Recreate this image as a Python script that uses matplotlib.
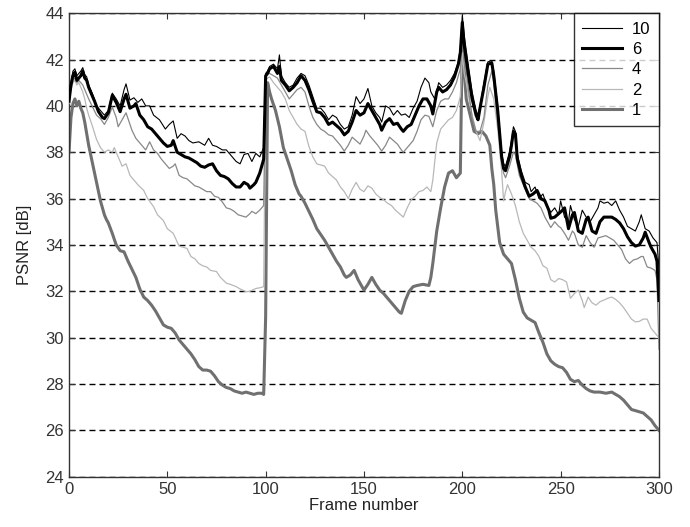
import matplotlib
matplotlib.use('Agg')
import matplotlib.pyplot as plt

plt.rcParams['font.family'] = ['Liberation Sans', 'DejaVu Sans']

# PSNR per frame for different numbers of reference frames (10, 6, 4, 2, 1)
frames_10 = [0, 1, 2, 3, 4, 5, 6, 7, 8, 9, 10, 12, 14, 16, 18, 20, 22, 24, 26, 28, 29, 31, 33, 35, 37, 39,
             41, 43, 46, 49, 51, 53, 55, 57, 59, 61, 63, 66, 69, 71, 73, 75, 78, 80, 83, 85, 87, 89, 91,
             93, 95, 97, 99,
             100, 101, 102, 104, 106, 107, 108, 110, 112, 114, 116, 118, 120, 122, 124, 126, 128, 130,
             132, 134, 136, 138, 140, 142, 144, 146, 148, 150, 152, 154, 156, 158, 159, 161, 163, 165,
             167, 169, 171, 173, 175, 177, 179, 181, 183, 184, 186, 188, 190, 192, 194, 196, 198, 199,
             200, 201, 203, 205, 207, 208, 209, 211, 213, 215, 216, 218, 220, 221, 222, 224, 225, 226,
             227, 228, 230, 232, 234, 235, 237, 239, 241, 243, 245, 247, 249, 250, 252, 254, 255, 257,
             259, 261, 263, 265, 267, 269, 270, 272, 274, 276, 278, 280, 282, 284, 286, 288, 290, 291,
             293, 295, 297, 299, 300]
psnr_10 = [40.3, 41.0, 41.5, 41.6, 41.3, 41.4, 41.5, 41.65, 41.35, 41.25, 40.9, 40.5, 40.0, 39.8, 39.6,
           39.8, 40.55, 40.3, 40.0, 40.7, 40.95, 40.25, 40.35, 40.15, 40.3, 40.0, 40.0, 39.6, 39.4, 39.0,
           39.2, 39.35, 38.6, 38.8, 38.7, 38.5, 38.4, 38.45, 38.3, 38.6, 38.3, 38.25, 38.1, 38.1, 37.8,
           37.6, 37.5, 37.9, 37.95, 37.6, 37.95, 37.8, 38.2,
           41.4, 41.5, 41.7, 41.8, 41.6, 42.2, 41.3, 41.0, 40.8, 40.9, 41.2, 41.4, 41.3, 40.9, 40.4,
           39.9, 39.9, 39.7, 39.4, 39.6, 39.5, 39.2, 39.0, 39.1, 39.6, 40.4, 40.1, 40.3, 40.75, 40.0,
           39.7, 39.5, 39.3, 40.0, 39.9, 39.6, 39.8, 39.6, 39.65, 39.5, 39.9, 40.2, 40.8, 41.2, 41.0,
           40.6, 40.3, 41.0, 40.8, 40.9, 41.1, 41.4, 41.9, 42.5,
           43.9, 43.0, 41.8, 40.6, 39.8, 39.6, 40.0, 41.0, 41.9, 41.95, 41.5, 40.0, 38.0, 37.5, 37.4,
           38.0, 38.5, 39.1, 38.9, 37.9, 37.2, 36.7, 36.6, 36.3, 36.5, 36.0, 36.2, 35.7, 35.4, 35.6,
           35.3, 35.9, 35.2, 35.0, 35.7, 35.1, 34.8, 35.5, 35.2, 35.0, 35.3, 35.6, 35.9, 35.8, 35.85,
           35.7, 35.9, 35.5, 35.2, 34.8, 34.7, 34.6, 35.0, 35.3, 34.7, 34.6, 34.3, 34.1, 33.0]

frames_6 = [0, 1, 2, 3, 4, 5, 6, 7, 8, 9, 10, 11, 13, 15, 17, 18, 20, 22, 24, 26, 28, 29, 31, 33, 34, 36,
            38, 40, 42, 44, 46, 48, 50, 52, 53, 55, 57, 59, 61, 63, 65, 67, 69, 71, 73, 75, 77, 79, 81,
            83, 85, 87, 89, 91, 92, 94, 95, 97, 99,
            100, 101, 102, 104, 106, 107, 108, 110, 112, 114, 116, 118, 120, 122, 124, 126, 128, 130,
            132, 134, 136, 138, 140, 142, 144, 146, 148, 150, 152, 154, 156, 158, 159, 161, 163, 165,
            167, 169, 170, 172, 174, 176, 178, 180, 182, 184, 185, 187, 188, 190, 192, 194, 196, 198,
            199,
            200, 201, 203, 205, 207, 208, 209, 211, 213, 215, 216, 218, 220, 221, 222, 224, 225, 226,
            227, 228, 230, 232, 234, 236, 238, 240, 242, 244, 245, 247, 249, 251, 252, 254, 256, 257,
            259, 261, 263, 264, 266, 268, 270, 272, 274, 276, 278, 280, 282, 284, 286, 288, 290, 292,
            293, 295, 296, 298, 299, 300]
psnr_6 = [40.2, 40.9, 41.3, 41.45, 41.1, 41.2, 41.3, 41.5, 41.2, 41.1, 40.8, 40.6, 40.2, 39.75, 39.5,
          39.45, 39.7, 40.45, 40.15, 39.75, 40.3, 40.5, 39.9, 40.0, 40.1, 39.6, 39.4, 39.1, 39.0, 38.8,
          38.6, 38.4, 38.25, 38.3, 38.5, 38.0, 37.9, 37.8, 37.75, 37.65, 37.55, 37.4, 37.35, 37.45, 37.5,
          37.2, 37.0, 36.95, 36.85, 36.65, 36.5, 36.5, 36.7, 36.6, 36.45, 36.6, 36.7, 37.1, 37.7,
          41.3, 41.4, 41.6, 41.7, 41.4, 41.7, 41.1, 40.9, 40.65, 40.8, 41.0, 41.3, 41.1, 40.7, 40.2,
          39.75, 39.7, 39.5, 39.2, 39.3, 39.15, 39.0, 38.75, 38.9, 39.3, 39.8, 39.6, 39.7, 40.1, 39.8,
          39.5, 39.2, 38.95, 39.3, 39.45, 39.2, 39.25, 39.0, 38.9, 39.1, 39.2, 39.6, 40.0, 40.3, 40.3,
          40.0, 39.65, 40.6, 40.8, 40.6, 40.7, 40.9, 41.25, 41.8, 42.3,
          43.6, 42.6, 41.4, 40.3, 39.6, 39.4, 39.9, 40.8, 41.8, 41.85, 41.3, 39.8, 37.8, 37.3, 37.2,
          37.8, 38.3, 38.9, 38.8, 37.7, 37.0, 36.5, 36.1, 36.2, 36.35, 36.0, 35.9, 35.5, 35.15, 35.2,
          35.35, 35.5, 35.6, 34.7, 35.3, 35.4, 34.6, 34.5, 35.1, 35.2, 34.6, 34.5, 35.0, 35.2, 35.2,
          35.2, 35.1, 34.95, 34.7, 34.35, 34.1, 33.95, 34.0, 34.3, 34.55, 34.1, 33.9, 33.6, 33.3, 31.6]

frames_4 = [0, 1, 2, 3, 4, 5, 6, 7, 8, 10, 12, 14, 16, 18, 20, 22, 24, 25, 27, 29, 31, 32, 34, 36, 38,
            39, 41, 43, 45, 47, 49, 51, 53, 54, 56, 58, 60, 62, 64, 66, 68, 70, 72, 74, 76, 78, 80, 82,
            84, 86, 88, 90, 92, 93, 95, 97, 99,
            100, 101, 102, 104, 106, 108, 110, 112, 114, 116, 118, 120, 122, 124, 126, 128, 130, 132,
            134, 136, 138, 140, 142, 144, 146, 148, 150, 151, 153, 155, 157, 159, 161, 163, 165, 167,
            169, 170, 172, 175, 177, 179, 181, 183, 185, 187, 189, 191, 193, 195, 197, 199,
            200, 201, 202, 203, 205, 207, 209, 211, 213, 215, 216, 218, 220, 221, 222, 224, 226, 227,
            229, 230, 232, 234, 236, 238, 240, 242, 244, 245, 247, 249, 250, 252, 254, 256, 257, 259,
            261, 263, 265, 267, 269, 271, 273, 275, 277, 279, 281, 283, 285, 287, 289, 291, 292, 294,
            296, 298, 299, 300]
psnr_4 = [40.2, 40.8, 41.1, 41.2, 41.0, 41.1, 41.0, 40.9, 40.7, 40.3, 39.95, 39.6, 39.45, 39.2, 39.5,
          39.95, 39.5, 39.1, 39.4, 39.7, 39.2, 38.95, 38.6, 38.4, 38.2, 38.1, 38.45, 38.1, 37.95, 37.7,
          37.5, 37.3, 37.4, 37.5, 37.0, 36.9, 36.85, 36.7, 36.55, 36.5, 36.4, 36.3, 36.3, 36.1, 36.05,
          35.85, 35.6, 35.55, 35.45, 35.3, 35.25, 35.2, 35.35, 35.45, 35.35, 35.5, 35.7,
          41.2, 41.4, 41.4, 41.3, 41.2, 40.9, 40.6, 40.3, 40.5, 40.7, 40.8, 40.6, 40.0, 39.5, 39.2,
          39.0, 38.9, 38.75, 38.7, 38.5, 38.3, 38.05, 38.3, 38.65, 38.5, 38.35, 38.7, 38.95, 38.7,
          38.5, 38.3, 38.05, 38.3, 38.65, 38.5, 38.35, 38.1, 38.0, 38.2, 38.5, 38.9, 39.4, 39.6,
          39.55, 39.1, 39.8, 40.2, 40.3, 40.3, 40.6, 41.0, 41.6,
          43.0, 41.9, 41.5, 40.8, 39.5, 38.9, 38.9, 39.5, 40.9, 41.5, 41.0, 39.3, 37.6, 37.1, 36.9,
          37.4, 38.0, 37.9, 37.0, 36.8, 36.4, 36.0, 35.9, 35.8, 35.6, 35.2, 34.9, 34.75, 35.0, 34.8,
          34.75, 34.5, 34.2, 34.6, 34.5, 34.0, 33.9, 34.4, 34.1, 33.9, 34.3, 34.35, 34.4, 34.3, 34.2,
          34.0, 33.8, 33.4, 33.2, 33.35, 33.4, 33.5, 33.5, 33.05, 33.0, 32.9, 32.5, 29.5]

frames_2 = [0, 1, 2, 3, 4, 5, 6, 7, 8, 9, 10, 12, 14, 16, 18, 20, 22, 23, 25, 27, 29, 31, 33, 35, 38,
            40, 43, 45, 48, 50, 53, 56, 58, 60, 62, 64, 66, 68, 70, 72, 75, 77, 80, 82, 85, 87, 90, 92,
            95, 97, 99,
            100, 101, 102, 104, 106, 108, 110, 112, 114, 116, 118, 120, 122, 124, 126, 128, 130, 132,
            134, 136, 138, 140, 142, 144, 146, 148, 150, 152, 154, 156, 158, 160, 162, 164, 166, 168,
            170, 172, 174, 176, 178, 180, 182, 184, 185, 187, 189, 191, 193, 195, 197, 199,
            200, 201, 202, 204, 205, 207, 209, 211, 213, 214, 216, 218, 220, 221, 222, 223, 225, 227,
            229, 231, 233, 235, 237, 239, 241, 243, 245, 247, 249, 251, 253, 255, 257, 259, 261, 262,
            264, 266, 268, 270, 272, 274, 276, 278, 280, 282, 284, 286, 288, 290, 292, 294, 296, 298,
            299, 300]
psnr_2 = [40.1, 40.7, 41.0, 41.1, 40.9, 41.0, 40.8, 40.6, 40.3, 39.9, 39.6, 39.1, 38.55, 38.2, 38.0,
          38.1, 38.0, 38.2, 37.8, 37.4, 37.5, 37.0, 36.8, 36.6, 36.35, 36.0, 35.65, 35.3, 35.05, 34.7,
          34.5, 33.95, 33.9, 33.85, 33.5, 33.4, 33.2, 33.1, 33.05, 32.9, 32.85, 32.6, 32.35, 32.3,
          32.2, 32.1, 31.98, 32.0, 32.12, 32.15, 32.2,
          41.1, 41.2, 41.25, 41.0, 40.8, 40.6, 40.3, 39.8, 39.5, 39.2, 39.0, 38.9, 38.25, 37.8, 37.5,
          37.45, 37.4, 37.1, 36.95, 36.8, 36.5, 36.3, 36.0, 36.4, 36.7, 36.4, 36.3, 36.55, 36.45,
          36.2, 36.05, 35.95, 35.8, 35.7, 35.5, 35.35, 35.2, 35.6, 35.95, 36.1, 36.3, 36.35, 36.5,
          36.3, 36.8, 38.4, 39.0, 39.2, 39.4, 39.5, 39.8, 40.4,
          42.3, 41.4, 41.0, 40.0, 39.6, 38.9, 38.5, 39.3, 40.4, 40.8, 40.3, 39.0, 37.2, 35.9, 36.3,
          36.6, 36.2, 35.7, 35.0, 34.5, 34.2, 33.9, 33.75, 33.5, 33.1, 33.0, 32.5, 32.4, 32.55, 32.5,
          32.4, 31.7, 31.9, 32.05, 31.6, 31.3, 31.75, 31.5, 31.4, 31.55, 31.62, 31.7, 31.75, 31.65,
          31.5, 31.3, 31.05, 30.8, 30.68, 30.7, 30.8, 30.8, 30.4, 30.2, 30.1, 30.0]

frames_1 = [0, 1, 2, 3, 4, 5, 6, 7, 8, 9, 10, 11, 12, 13, 14, 15, 16, 17, 18, 19, 20, 22, 24, 26, 28,
            30, 32, 34, 36, 38, 40, 42, 44, 46, 48, 50, 52, 54, 56, 58, 60, 62, 64, 66, 68, 70, 72, 74,
            76, 78, 80, 82, 84, 86, 88, 90, 92, 94, 96, 98, 99,
            100, 101, 102, 103, 105, 107, 109, 111, 113, 115, 117, 118, 120, 122, 124, 126, 128, 130,
            132, 134, 136, 138, 140, 141, 143, 145, 147, 149, 150, 152, 154, 156, 158, 160, 162, 164,
            166, 168, 169, 171, 173, 175, 177, 180, 183, 184, 185, 187, 189, 191, 193, 195, 197, 199,
            200, 201, 202, 204, 206, 208, 210, 212, 214, 215, 216, 217, 219, 221, 223, 225, 227, 229,
            231, 233, 235, 237, 239, 241, 243, 245, 247, 249, 251, 253, 255, 257, 259, 261, 263, 265,
            267, 270, 273, 276, 278, 280, 282, 284, 286, 288, 290, 292, 294, 296, 298, 300]
psnr_1 = [38.0, 39.5, 40.1, 40.3, 40.0, 40.2, 39.9, 39.7, 39.3, 38.8, 38.3, 37.9, 37.5, 37.1, 36.7,
          36.3, 35.9, 35.6, 35.3, 35.1, 34.95, 34.5, 34.0, 33.75, 33.7, 33.3, 32.95, 32.6, 32.1, 31.75,
          31.6, 31.4, 31.15, 30.85, 30.55, 30.45, 30.4, 30.2, 29.9, 29.7, 29.5, 29.3, 29.05, 28.75,
          28.6, 28.6, 28.55, 28.35, 28.1, 27.95, 27.85, 27.8, 27.7, 27.65, 27.6, 27.65, 27.6, 27.55,
          27.6, 27.6, 27.55,
          30.9, 41.0, 40.6, 40.3, 39.8, 39.1, 38.2, 37.7, 37.2, 36.6, 36.2, 36.1, 35.8, 35.45, 35.1,
          34.7, 34.45, 34.2, 33.9, 33.6, 33.3, 33.05, 32.7, 32.6, 32.7, 32.9, 32.5, 32.2, 32.05, 32.3,
          32.6, 32.3, 32.05, 31.9, 31.7, 31.5, 31.3, 31.1, 31.05, 31.6, 32.0, 32.2, 32.25, 32.3, 32.25,
          32.6, 33.2, 34.6, 35.6, 36.5, 37.1, 37.2, 36.9, 37.1,
          43.0, 41.5, 40.3, 39.6, 38.9, 38.8, 38.9, 38.7, 38.3, 37.3, 36.6, 35.5, 34.1, 33.6, 33.4,
          33.2, 32.5, 31.7, 31.1, 30.85, 30.75, 30.65, 30.2, 29.8, 29.3, 29.0, 28.85, 28.75, 28.7,
          28.5, 28.2, 28.1, 28.15, 27.95, 27.8, 27.7, 27.65, 27.65, 27.6, 27.65, 27.55, 27.45, 27.3,
          27.1, 26.9, 26.85, 26.8, 26.75, 26.6, 26.45, 26.2, 26.0]

labels = ['10', '6', '4', '2', '1']

fig = plt.figure(figsize=(6.9, 5.27), dpi=100)
ax = fig.add_axes([0.1, 0.0955, 0.855, 0.8795])

l1, = ax.plot(frames_1, psnr_1, color='#707070', lw=2.2, zorder=2)
l2, = ax.plot(frames_2, psnr_2, color='#b8b8b8', lw=0.9, zorder=3)
l4, = ax.plot(frames_4, psnr_4, color='#888888', lw=0.9, zorder=4)
l6, = ax.plot(frames_6, psnr_6, color='black', lw=2.2, zorder=5)
l10, = ax.plot(frames_10, psnr_10, color='black', lw=0.8, zorder=6)

ax.set_xlim(0, 300)
ax.set_ylim(24, 44)
ax.set_xticks(range(0, 301, 50))
ax.set_yticks(range(24, 45, 2))
ax.yaxis.grid(True, color='black', lw=1.0, linestyle=(0, (4.3, 2.9)))
ax.set_axisbelow(True)

ax.tick_params(direction='in', top=True, right=True, length=4, labelsize=12, colors='#333333')
for s in ax.spines.values():
    s.set_color('#333333')
    s.set_linewidth(1.0)

ax.set_xlabel('Frame number', fontsize=12, color='#222222', labelpad=1)
ax.set_ylabel('PSNR [dB]', fontsize=12, color='#222222', labelpad=10)

leg = ax.legend([l10, l6, l4, l2, l1], labels, loc='upper right', borderaxespad=0,
                fancybox=False, edgecolor='black', fontsize=12, labelspacing=0.32,
                handlelength=2.4, handletextpad=0.6, borderpad=0.5)
leg.get_frame().set_linewidth(1.0)

fig.savefig('out.png', dpi=100)
